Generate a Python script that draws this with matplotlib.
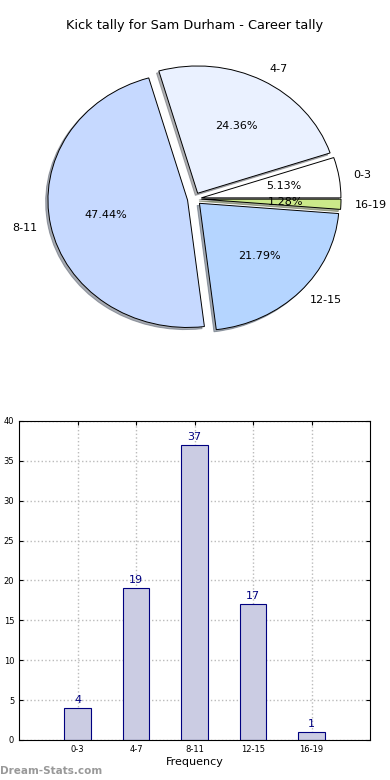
import matplotlib
matplotlib.use('Agg')
import numpy as np
import matplotlib.pyplot as plt

# data
ranges = ['0-3', '4-7', '8-11', '12-15', '16-19']
kicks = [4, 19, 37, 17, 1]
pie_colors = ['#ffffff', '#eaf1ff', '#c6d9ff', '#b5d5ff', '#cbe98a']
title = 'Kick tally for Sam Durham - Career tally'

fig = plt.figure(figsize=(3.9, 7.8), dpi=100)

# pie on top
ax1 = fig.add_axes([0.051, 0.541, 0.895, 0.408])
wedges, texts, autotexts = ax1.pie(kicks, labels=ranges, colors=pie_colors,
                                   explode=[0.05] * len(kicks),
                                   shadow=dict(ox=-0.012, oy=-0.012, shade=0.6),
                                   autopct='%1.2f%%', startangle=0,
                                   wedgeprops=dict(edgecolor='black', linewidth=0.7),
                                   textprops=dict(fontsize=8))
ax1.set_aspect('auto')
ax1.set_xlim(-1.25, 1.25)
ax1.set_ylim(-1.25, 1.25)
ax1.set_title(title, fontsize=9.3, pad=8)

# bar chart below
ax2 = fig.add_axes([0.049, 0.0513, 0.9, 0.409])
x = np.arange(len(ranges))
bars = ax2.bar(x, kicks, width=0.45, color='#cbcce3', edgecolor='#000080',
               linewidth=0.8, zorder=2)
for xi, v in zip(x, kicks):
    ax2.text(xi, v + 0.4, str(v), ha='center', va='bottom', color='#000080', fontsize=8)
ax2.set_xlim(-1, 5)
ax2.set_ylim(0, 40)
ax2.set_xticks(x)
ax2.set_xticklabels(ranges)
ax2.set_yticks(range(0, 41, 5))
ax2.tick_params(labelsize=6, direction='in', top=True, right=True, length=3)
ax2.grid(True, linestyle=':', color='#bbbbbb', linewidth=1, zorder=0)
ax2.set_axisbelow(True)
ax2.set_xlabel('Frequency', fontsize=8, labelpad=2)

fig.text(0.0, 0.005, 'Dream-Stats.com', color='#999999', fontsize=7.5,
         fontweight='bold', ha='left', va='bottom')

fig.savefig('out.png', dpi=100)
